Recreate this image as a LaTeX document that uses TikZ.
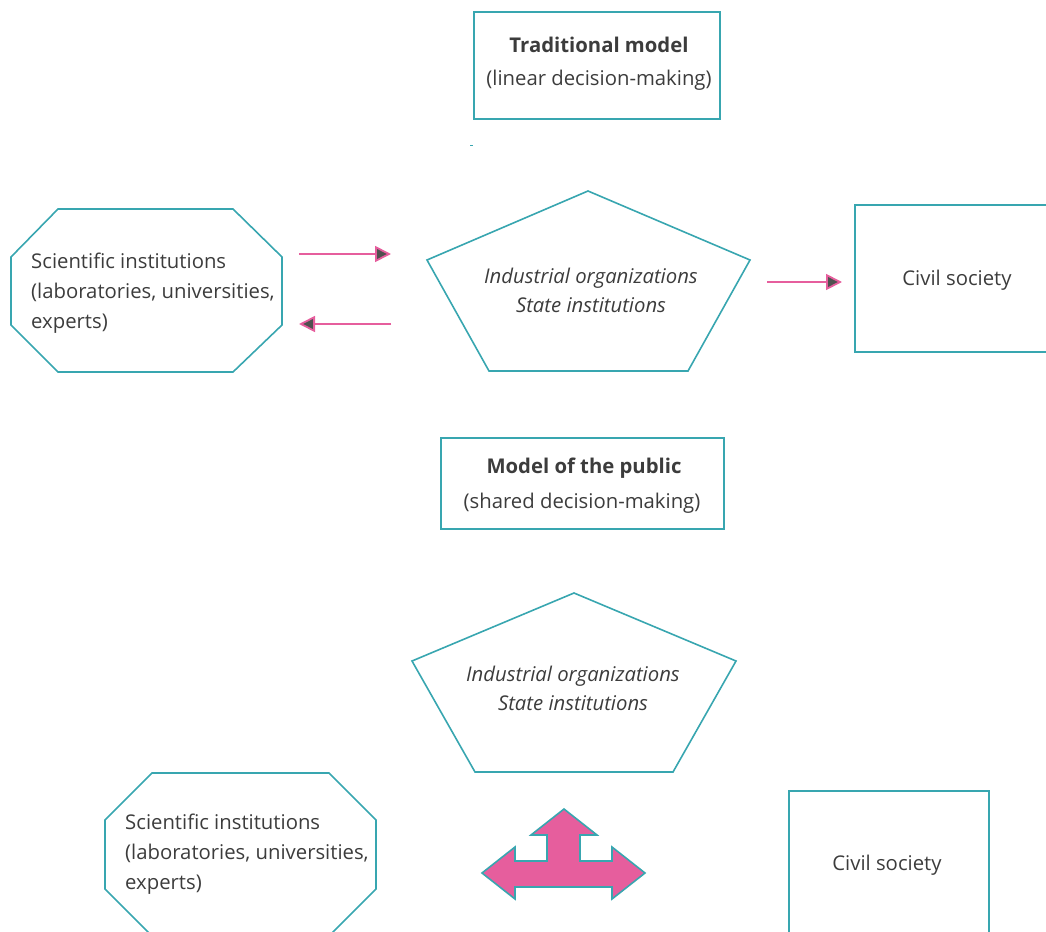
\documentclass[tikz,border=0pt]{standalone}
\usepackage{fontspec}
\setmainfont{Open Sans}
\usetikzlibrary{arrows.meta}
\definecolor{tealc}{RGB}{56,166,176}
\definecolor{pinkc}{RGB}{230,94,157}
\definecolor{headc}{RGB}{80,80,80}
\definecolor{txtc}{RGB}{60,60,60}
\tikzset{
  shapeline/.style={draw=tealc, line width=1.6pt, line join=miter},
  boxnode/.style={shapeline, rectangle, inner sep=0pt},
  lbl/.style={text=txtc, font=\fontsize{20.3}{30}\selectfont, inner sep=0pt},
  blbl/.style={lbl, font=\fontsize{20.3}{30}\selectfont\bfseries},
  ilbl/.style={lbl, font=\fontsize{20.3}{29}\selectfont\itshape, align=center},
  flowarrow/.style={draw=pinkc, line width=1.8pt, -{Triangle[length=16pt,width=16pt,fill=headc]}},
}
\begin{document}
\begin{tikzpicture}[x=1pt,y=-1pt]
\useasboundingbox (0,0) rectangle (1046,931);
\clip (0,0) rectangle (1046,931);
% ---------- Traditional model ----------
\node[boxnode, minimum width=246pt, minimum height=107pt] (tm) at (597,65.5) {};
\node[blbl] (tmt) at (599,45) {Traditional model};
\node[lbl] (tms) at (599,80) {(linear decision-making)};
\draw[tealc, line width=1.6pt] (470,145.5) -- (473,145.5);
% octagon top
\draw[shapeline] (58,209) -- (233,209) -- (282,257) -- (282,325) -- (233,372) -- (58,372) -- (11,325) -- (11,257) -- cycle;
\node[lbl, anchor=west, align=left] (sci1) at (31,293) {Scientific institutions\\(laboratories, universities,\\experts)};
% pentagon top
\draw[shapeline] (588,191) -- (750,260) -- (688,371) -- (489,371) -- (427,260) -- cycle;
\node[ilbl] (ind1) at (591,290.5) {Industrial organizations\\State institutions};
% civil society top
\node[boxnode, minimum width=205pt, minimum height=147pt] (civ1) at (957.5,278.5) {};
\node[lbl] (civ1t) at (957,280) {Civil society};
% arrows
\coordinate (a1s) at (299,254); \coordinate (a1e) at (391,254);
\coordinate (a2s) at (391,324); \coordinate (a2e) at (299,324);
\coordinate (a3s) at (767,282); \coordinate (a3e) at (842,282);
\draw[flowarrow] (a1s) -- (a1e);
\draw[flowarrow] (a2s) -- (a2e);
\draw[flowarrow] (a3s) -- (a3e);
% ---------- Model of the public ----------
\node[boxnode, minimum width=283pt, minimum height=91pt] (mp) at (582.5,483.5) {};
\node[blbl] (mpt) at (584,468) {Model of the public};
\node[lbl] (mps) at (582,503) {(shared decision-making)};
% pentagon bottom
\draw[shapeline] (574,593) -- (736,661) -- (673,772) -- (475,772) -- (412,661) -- cycle;
\node[ilbl] (ind2) at (573,688.5) {Industrial organizations\\State institutions};
% octagon bottom
\draw[shapeline] (152,773) -- (329,773) -- (376,820) -- (376,889) -- (329,936) -- (152,936) -- (105,889) -- (105,820) -- cycle;
\node[lbl, anchor=west, align=left] (sci2) at (125,854) {Scientific institutions\\(laboratories, universities,\\experts)};
% civil society bottom
\node[boxnode, minimum width=200pt, minimum height=160pt] (civ2) at (889,871) {};
\node[lbl] (civ2t) at (887,865) {Civil society};
% three-way arrow
\draw[draw=tealc, fill=pinkc, line width=1.6pt, line join=miter]
  (564,809) -- (597,835) -- (580,835) -- (580,861) -- (612,861) -- (612,847) -- (645,873)
  -- (612,899) -- (612,887) -- (515,887) -- (515,899) -- (482,873) -- (515,847) -- (515,861)
  -- (547,861) -- (547,835) -- (531,835) -- cycle;
\end{tikzpicture}
\end{document}
